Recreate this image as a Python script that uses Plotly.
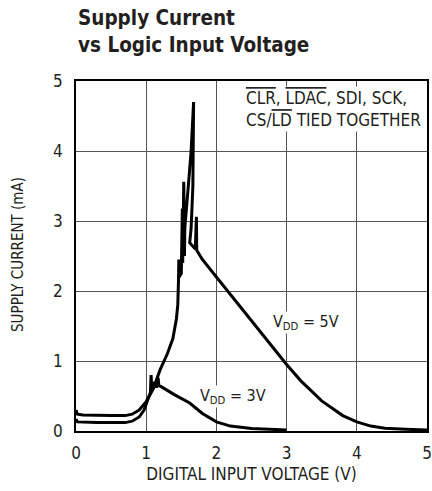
import plotly.graph_objects as go

# 5V trace (scope-like, includes glitches)
v5_x = [0.0, 0.02, 0.1, 0.3, 0.5, 0.7, 0.8, 0.9, 1.0, 1.1, 1.2, 1.3, 1.38, 1.43, 1.45,
        1.46, 1.465, 1.47, 1.50, 1.515, 1.52, 1.535, 1.545, 1.55, 1.60, 1.64, 1.675,
        1.665, 1.64, 1.62, 1.70, 1.715, 1.72, 1.8, 2.0, 2.2, 2.5, 2.8, 3.0, 3.2, 3.5,
        3.8, 4.0, 4.2, 4.4, 4.7, 5.0]
v5_y = [0.30, 0.24, 0.23, 0.22, 0.22, 0.22, 0.24, 0.30, 0.42, 0.60, 0.88, 1.10, 1.32, 1.60, 1.80,
        2.15, 2.45, 2.20, 2.25, 3.18, 2.40, 3.56, 2.50, 2.90, 3.50, 4.00, 4.70,
        3.50, 2.90, 2.69, 2.60, 3.06, 2.58, 2.45, 2.20, 1.95, 1.57, 1.20, 0.95, 0.72, 0.43,
        0.22, 0.13, 0.07, 0.04, 0.025, 0.015]

# 3V trace
v3_x = [0.0, 0.02, 0.3, 0.7, 0.8, 0.9, 0.97, 1.03, 1.06, 1.07, 1.08, 1.12, 1.15, 1.17,
        1.18, 1.22, 1.4, 1.62, 1.8, 2.0, 2.2, 2.5, 2.8, 3.0]
v3_y = [0.17, 0.13, 0.12, 0.12, 0.14, 0.20, 0.30, 0.45, 0.55, 0.80, 0.60, 0.70, 0.62, 0.76,
        0.65, 0.63, 0.52, 0.40, 0.25, 0.13, 0.07, 0.035, 0.02, 0.015]

x_ticks = [0, 1, 2, 3, 4, 5]
y_ticks = [0, 1, 2, 3, 4, 5]

FAM = "DejaVu Sans Condensed, DejaVu Sans, sans-serif"
TXT = "#231f20"

def F(size, weight="normal"):
    return dict(family=FAM, size=size, color=TXT, weight=weight)

def C(s):
    return "<span style='font-stretch:condensed'>" + s + "</span>"

fig = go.Figure()
fig.add_trace(go.Scatter(x=v5_x, y=v5_y, mode="lines",
                         line=dict(color="black", width=3), showlegend=False))
fig.add_trace(go.Scatter(x=v3_x, y=v3_y, mode="lines",
                         line=dict(color="black", width=3), showlegend=False))

OL = "<span style='text-decoration:overline;font-stretch:condensed'>%s</span>"
fig.add_annotation(x=0.48, y=0.985, xref="paper", yref="paper", xanchor="left", yanchor="top",
                   text=(OL % "CLR") + C(", ") + (OL % "LDAC") + C(", SDI, SCK,") + "<br>" + C("CS/") + (OL % "LD") + C(" TIED TOGETHER"),
                   showarrow=False, align="left", bgcolor="white", borderpad=1,
                   font=F(17))
fig.add_annotation(x=3.27, y=1.55, xref="x", yref="y",
                   text=C("V") + "<sub>" + C("DD") + "</sub>" + C(" = 5V"), showarrow=False, bgcolor="white", borderpad=0,
                   font=F(16))
fig.add_annotation(x=2.23, y=0.49, xref="x", yref="y",
                   text=C("V") + "<sub>" + C("DD") + "</sub>" + C(" = 3V"), showarrow=False, bgcolor="white", borderpad=0,
                   font=F(16))
# title
fig.add_annotation(x=0, y=1 + 77/350, xref="paper", yref="paper", xanchor="left", yanchor="top",
                   text="<b>" + C("Supply Current") + "<br>" + C("vs Logic Input Voltage") + "</b>", showarrow=False,
                   align="left", font=F(20.5, "bold"))
# y-axis title
fig.add_annotation(x=-58/351, y=0.503, xref="paper", yref="paper", xanchor="center", yanchor="middle",
                   text=C("SUPPLY CURRENT (mA)"), textangle=-90, showarrow=False,
                   font=F(15))

fig.update_layout(
    width=432, height=491,
    margin=dict(l=76, r=5, t=81, b=60, autoexpand=False),
    paper_bgcolor="white", plot_bgcolor="white",
    font=F(14),
)
fig.update_xaxes(range=[0, 5], tickvals=x_ticks, ticktext=[C(str(t)) for t in x_ticks],
                 showgrid=True, gridcolor="#555555", gridwidth=1.2,
                 showline=True, linecolor="black", linewidth=1.5, mirror=True,
                 zeroline=False, ticks="", ticklabelstandoff=6, automargin=False,
                 tickfont=F(17),
                 title=dict(text=C("DIGITAL INPUT VOLTAGE (V)"), standoff=6, font=F(17)))
fig.update_yaxes(range=[0, 5], tickvals=y_ticks, ticktext=[C(str(t)) for t in y_ticks],
                 showgrid=True, gridcolor="#555555", gridwidth=1.2,
                 showline=True, linecolor="black", linewidth=1.5, mirror=True,
                 zeroline=False, ticks="", ticklabelstandoff=8, automargin=False,
                 tickfont=F(17))

fig.write_html("out.html", post_script="document.body.style.margin='0';",
               config={"displayModeBar": False})
